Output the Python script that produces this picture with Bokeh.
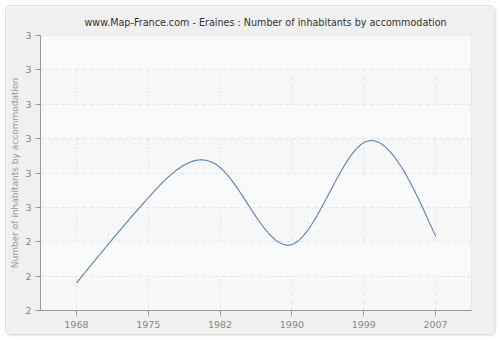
import numpy as np
from bokeh.plotting import figure
from bokeh.models import Range1d, FixedTicker, BoxAnnotation
from bokeh.embed import file_html
from bokeh.resources import INLINE

years = ["1968", "1975", "1982", "1990", "1999", "2007"]
values = [2.10, 2.41, 2.52, 2.24, 2.61, 2.27]
y_ticks = [2.0, 2.125, 2.25, 2.375, 2.5, 2.625, 2.75, 2.875, 3.0]
y_tick_labels = ["2", "2", "2", "3", "3", "3", "3", "3", "3"]
title_text = "www.Map-France.com - Eraines : Number of inhabitants by accommodation"
y_label = "Number of inhabitants by accommodation"


def natural_spline(y, samples=40):
    y = np.asarray(y, dtype=float)
    n = len(y)
    A = np.zeros((n, n))
    d = np.zeros(n)
    A[0, 0] = A[-1, -1] = 1.0
    for i in range(1, n - 1):
        A[i, i - 1], A[i, i], A[i, i + 1] = 1.0, 4.0, 1.0
        d[i] = 6.0 * (y[i + 1] - 2 * y[i] + y[i - 1])
    M = np.linalg.solve(A, d)
    xs, ys = [], []
    for i in range(n - 1):
        t = np.linspace(0, 1, samples, endpoint=(i == n - 2))
        s = (M[i] * (1 - t) ** 3 / 6 + M[i + 1] * t ** 3 / 6
             + (y[i] - M[i] / 6) * (1 - t) + (y[i + 1] - M[i + 1] / 6) * t)
        xs.extend(i + t)
        ys.extend(s)
    return xs, ys


xi = list(range(len(years)))
cx, cy = natural_spline(values)

p = figure(width=490, height=330, output_backend="svg", toolbar_location=None,
           x_range=Range1d(-0.5, len(years) - 0.5), y_range=Range1d(y_ticks[0], y_ticks[-1]),
           min_border_left=34, min_border_right=25, min_border_top=29, min_border_bottom=26)
p.styles = {"margin": "5px", "border": "1px solid #dcdcdc", "border-radius": "6px",
            "overflow": "hidden", "box-shadow": "1px 1px 2px #e4e4e4"}

p.border_fill_color = "#f0f0f0"
p.background_fill_color = "#ffffff"
p.outline_line_color = "#d8d8d8"

p.title.text = title_text
p.title.text_font = "DejaVu Sans"
p.title.text_font_size = "9.6px"
p.title.text_font_style = "normal"
p.title.text_color = "#333333"
p.title.align = "left"
p.title.offset = 44
p.title.text_line_height = 0.9
p.title.standoff = 16

hatch = BoxAnnotation(level="image", fill_color="#ffffff", fill_alpha=1.0,
                      hatch_pattern="/", hatch_color="#f0f0f0", hatch_scale=4,
                      hatch_weight=1, line_color=None)
p.add_layout(hatch)

p.line(cx, cy, line_color="#5580b5", line_width=1.1)

p.xaxis.ticker = FixedTicker(ticks=xi)
p.xaxis.major_label_overrides = {i: y for i, y in zip(xi, years)}
p.yaxis.ticker = FixedTicker(ticks=y_ticks)
p.yaxis.major_label_overrides = {t: l for t, l in zip(y_ticks, y_tick_labels)}

for ax in (p.xaxis, p.yaxis):
    ax.axis_line_color = "#999999"
    ax.major_tick_line_color = "#999999"
    ax.major_tick_out = 5
    ax.major_tick_in = 0
    ax.minor_tick_line_color = None
    ax.major_label_text_font = "DejaVu Sans"
    ax.major_label_text_font_size = "9.5px"
    ax.major_label_text_color = "#888888"

p.xaxis.major_label_standoff = 5
p.yaxis.major_label_standoff = 4
p.yaxis.axis_label = y_label
p.yaxis.axis_label_text_font = "DejaVu Sans"
p.yaxis.axis_label_text_font_size = "9px"
p.yaxis.axis_label_text_font_style = "normal"
p.yaxis.axis_label_text_color = "#999999"
p.yaxis.axis_label_standoff = 2

for g in (p.xgrid, p.ygrid):
    g.grid_line_color = "#e4e4e4"
    g.grid_line_dash = "4 3"
    g.grid_line_width = 1

p.ygrid.band_fill_color = "#fcfcfc"
p.ygrid.band_fill_alpha = 1.0
p.ygrid.band_hatch_pattern = "/"
p.ygrid.band_hatch_color = "#f7f7f7"
p.ygrid.band_hatch_scale = 4

open("out.html", "w").write(file_html(p, INLINE))
